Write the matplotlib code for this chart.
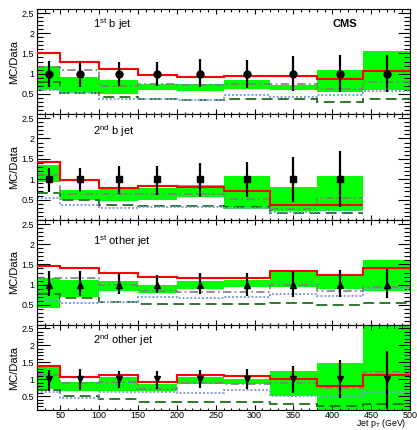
import numpy as np
import matplotlib
matplotlib.use("Agg")
import matplotlib.pyplot as plt
from matplotlib.ticker import MultipleLocator

plt.rcParams['font.family'] = ['Liberation Sans', 'DejaVu Sans']
plt.rcParams['mathtext.fontset'] = 'custom'
plt.rcParams['mathtext.rm'] = 'Liberation Sans'
plt.rcParams['mathtext.it'] = 'Liberation Sans:italic'

# bin edges and centres (jet pT, GeV)
edges = [20, 50, 100, 150, 200, 260, 320, 380, 440, 500]
centers = [35, 75, 125, 175, 230, 290, 350, 410, 470]

labels = ["1$^{\\rm st}$ b jet", "2$^{\\rm nd}$ b jet",
          "1$^{\\rm st}$ other jet", "2$^{\\rm nd}$ other jet"]
markers = ['o', 's', '^', 'v']

# panel 1: 1st b jet
red1 = [1.51, 1.29, 1.12, 0.96, 0.92, 0.93, 0.94, 0.86, 1.06]
band1_hi = [1.20, 0.92, 0.83, 0.75, 0.74, 0.84, 0.71, 1.08, 1.57]
band1_lo = [0.59, 0.51, 0.49, 0.59, 0.57, 0.61, 0.59, 0.55, 0.59]
dashdot1 = [1.16, 1.08, 0.69, 0.75, 0.71, 0.75, 0.75, 0.61, 0.79]
dotted1 = [0.59, 0.51, 0.36, 0.38, 0.35, 0.47, 0.42, 0.47, 0.57]
dashed1 = [0.79, 0.52, 0.41, 0.38, 0.35, 0.36, 0.36, 0.30, 0.38]
err1_hi = [1.31, 1.32, 1.30, 1.30, 1.35, 1.34, 1.43, 1.45, 1.45]
err1_lo = [0.66, 0.67, 0.70, 0.69, 0.66, 0.65, 0.57, 0.55, 0.55]

# panel 2: 2nd b jet (no last bin)
red2 = [1.42, 0.97, 0.78, 0.83, 0.82, 0.72, 0.36, 0.36]
band2_hi = [1.36, 0.73, 0.75, 0.78, 0.86, 1.08, 0.80, 1.07]
band2_lo = [0.94, 0.48, 0.47, 0.50, 0.57, 0.27, 0.22, 0.22]
dashdot2 = [1.11, 0.65, 0.65, 0.65, 0.63, 0.52, 0.28, 0.54]
dotted2 = [0.55, 0.38, 0.30, 0.33, 0.33, 0.30, 0.20, 0.25]
dashed2 = [0.67, 0.48, 0.38, 0.35, 0.35, 0.33, 0.18, 0.18]
err2_hi = [1.27, 1.27, 1.32, 1.32, 1.40, 1.42, 1.55, 1.69]
err2_lo = [0.69, 0.69, 0.65, 0.62, 0.57, 0.57, 0.44, 0.32]

# panel 3: 1st other jet
red3 = [1.46, 1.40, 1.30, 1.18, 1.17, 1.16, 1.34, 1.24, 1.40]
band3_hi = [1.16, 1.11, 1.10, 1.00, 1.08, 1.11, 1.32, 1.24, 1.62]
band3_lo = [0.43, 0.69, 0.84, 0.79, 0.90, 0.95, 0.93, 0.89, 0.85]
dashdot3 = [1.16, 1.16, 1.00, 0.85, 0.82, 0.81, 0.98, 0.85, 0.95]
dotted3 = [0.61, 0.55, 0.57, 0.69, 0.66, 0.69, 0.77, 0.73, 0.89]
dashed3 = [0.77, 0.67, 0.57, 0.51, 0.51, 0.51, 0.54, 0.49, 0.54]
err3_hi = [1.34, 1.34, 1.28, 1.24, 1.28, 1.30, 1.34, 1.36, 1.38]
err3_lo = [0.71, 0.71, 0.77, 0.79, 0.77, 0.71, 0.69, 0.69, 0.67]

# panel 4: 2nd other jet
red4 = [1.40, 1.07, 1.12, 0.91, 1.13, 1.09, 1.02, 0.81, 1.13]
band4_hi = [1.35, 0.91, 1.05, 0.86, 1.05, 1.00, 1.25, 1.49, 2.70]
band4_lo = [0.71, 0.66, 0.66, 0.66, 0.86, 0.86, 0.49, 0.00, 0.00]
dashdot4 = [1.13, 0.90, 0.91, 0.71, 0.88, 0.86, 0.88, 0.73, 1.20]
dotted4 = [0.61, 0.45, 0.61, 0.61, 0.58, 0.68, 0.49, 0.49, 0.61]
dashed4 = [0.68, 0.49, 0.42, 0.32, 0.33, 0.32, 0.27, 0.22, 0.27]
err4_hi = [1.27, 1.30, 1.23, 1.25, 1.27, 1.30, 1.40, 1.56, 1.84]
err4_lo = [0.66, 0.68, 0.74, 0.71, 0.74, 0.71, 0.58, 0.45, 0.12]

panels = [
    (red1, band1_hi, band1_lo, dashdot1, dotted1, dashed1, err1_hi, err1_lo),
    (red2, band2_hi, band2_lo, dashdot2, dotted2, dashed2, err2_hi, err2_lo),
    (red3, band3_hi, band3_lo, dashdot3, dotted3, dashed3, err3_hi, err3_lo),
    (red4, band4_hi, band4_lo, dashdot4, dotted4, dashed4, err4_hi, err4_lo),
]

W, H = 417, 430
fig = plt.figure(figsize=(W / 100, H / 100), dpi=100)

# pixel boxes (top, bottom) of each pad frame, y range, label offset (px below top)
boxes = [(9, 114, 0.0, 2.6, 15), (114, 220, 0.0, 2.6, 17),
         (220, 325, 0.0, 2.6, 21), (325, 410, 0.09, 2.6, 15)]
x0, x1 = 37, 410

for i, (vals, box) in enumerate(zip(panels, boxes)):
    red, bhi, blo, dd, dot, dsh, ehi, elo = vals
    top, bot, ylo, yhi, loff = box
    ax = fig.add_axes([x0 / W, 1 - bot / H, (x1 - x0) / W, (bot - top) / H])
    n = len(red)
    e = edges[:n + 1]
    c = np.array(centers[:n])

    ax.stairs(bhi, e, baseline=blo, fill=True, color='#00ff00', lw=0, zorder=1)
    ax.stairs(dsh, e, color='#1f6e1f', lw=1.3, ls=(0, (6, 3)), baseline=None, zorder=2)
    ax.stairs(dot, e, color='#7f9fdf', lw=1.4, ls=(0, (1, 1)), baseline=None, zorder=2)
    ax.stairs(dd, e, color='#808080', lw=1.2, ls=(0, (5, 2, 1, 2)), baseline=None, zorder=2)
    ax.stairs(red, e, color='#ff0000', lw=1.5, baseline=None, zorder=3)

    y = np.ones(n)
    yerr = [y - np.array(elo), np.array(ehi) - y]
    ax.errorbar(c, y, yerr=yerr, fmt=markers[i], color='black', ms=5,
                elinewidth=1.6, capsize=0, zorder=4)

    ax.set_xlim(20, 500)
    ax.set_ylim(ylo, yhi)
    ax.yaxis.set_minor_locator(MultipleLocator(0.1))
    ax.xaxis.set_major_locator(MultipleLocator(50))
    ax.xaxis.set_minor_locator(MultipleLocator(10))
    ax.set_yticks([0.5, 1, 1.5, 2, 2.5])
    ax.set_yticklabels(['0.5', '1', '1.5', '2', '2.5'])
    ax.tick_params(axis='y', which='major', direction='in', length=9, width=0.8,
                   left=True, right=True, labelsize=6.5, pad=2)
    ax.tick_params(axis='y', which='minor', direction='in', length=4.5, width=0.8,
                   left=True, right=True)
    ax.tick_params(axis='x', which='major', direction='in', length=3.5, width=0.8,
                   top=True, bottom=True, labelsize=6.5, pad=0.5)
    ax.tick_params(axis='x', which='minor', direction='in', length=1.8, width=0.8,
                   top=True, bottom=True)
    if i < 3:
        ax.tick_params(axis='x', labelbottom=False)
    else:
        ax.set_xticks(range(50, 501, 50))
    for s in ax.spines.values():
        s.set_linewidth(0.8)

    ax.set_ylabel('MC/Data', fontsize=8, labelpad=2)
    ax.text(93 / W, 1 - (top + loff) / H, labels[i], transform=fig.transFigure,
            fontsize=8, va='center')
    if i == 0:
        ax.text(345 / W, 1 - 24 / H, 'CMS', transform=fig.transFigure, fontsize=8,
                fontweight='bold', va='center', ha='center')

fig.text(406 / W, 1 - 429.5 / H, 'Jet p$_{\\rm T}$ (GeV)', fontsize=6.3,
         ha='right', va='bottom')

fig.savefig('out.png', dpi=100)
